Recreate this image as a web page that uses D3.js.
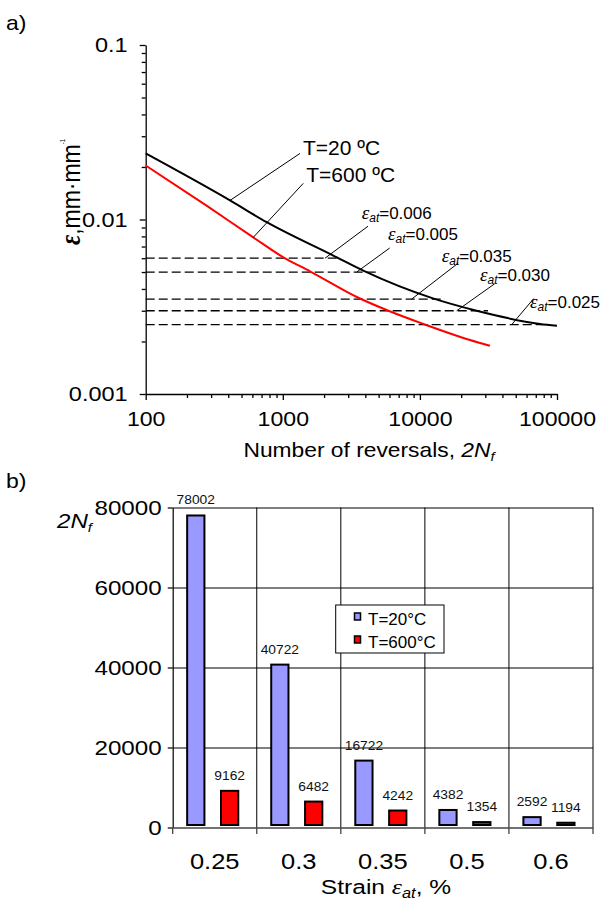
<!DOCTYPE html>
<html><head><meta charset="utf-8">
<script src="https://cdn.jsdelivr.net/npm/d3@7/dist/d3.min.js"></script>
<style>
body{margin:0;background:#fff;}
svg{display:block;font-family:"Liberation Sans",Arial,sans-serif;}
</style></head><body>
<svg id="c" width="606" height="901"></svg>
<script>
// ---------- Data: panel a ----------
const nBlack = [100, 412, 763, 2334, 3864, 12460, 25940, 75200, 100000];
const epsBlack = [0.0239, 0.01286, 0.00965, 0.00621, 0.00509, 0.00353, 0.0030, 0.00252, 0.00246];
const nRed = [100, 278, 609, 1009, 1578, 3556, 5890, 10600, 23170, 32400];
const epsRed = [0.0204, 0.0120, 0.0079, 0.00607, 0.00505, 0.00356, 0.0030, 0.00252, 0.00204, 0.00189];
const strainLevels = [0.006, 0.005, 0.0035, 0.003, 0.0025];
const strainLineEndN = [2470, 4840, 15200, 31400, 79100];
const strainLabels = ["=0.006", "=0.005", "=0.035", "=0.030", "=0.025"];
const strainAnchorN = [2032, 3459, 8716, 18550, 46760];
const xMajorTicks = [100, 1000, 10000, 100000];
const xTickLabels = ["100", "1000", "10000", "100000"];
const yMajorTicks = [0.001, 0.01, 0.1];
const yTickLabels = ["0.001", "0.01", "0.1"];
const tempLabels = ["T=20 \u00BAC", "T=600 \u00BAC"];
const tempAnchorN = [412, 609];

// ---------- Data: panel b ----------
const strainCats = ["0.25", "0.3", "0.35", "0.5", "0.6"];
const seriesNames = ["T=20\u00B0C", "T=600\u00B0C"];
const cycles20 = [78002, 40722, 16722, 4382, 2592];
const cycles600 = [9162, 6482, 4242, 1354, 1194];
const barTicks = [0, 20000, 40000, 60000, 80000];
const seriesColors = ["#9999FF", "#FF0000"];

const svg = d3.select("#c");
svg.append("rect").attr("width", 606).attr("height", 901).attr("fill", "#fff");
const FS = "Liberation Sans, Arial, sans-serif";
const K = 1.15; // horizontal stretch of the original figure's lettering

function stretch(sel, k) {
  sel.each(function () {
    const t = d3.select(this);
    const x = +t.attr("x") || 0, y = +t.attr("y") || 0;
    const prev = t.attr("transform") || "";
    t.attr("x", 0).attr("y", 0).attr("transform", `${prev} translate(${x},${y}) scale(${k},1)`);
  });
}

// ================= Panel a =================
stretch(svg.append("text").attr("x", 6).attr("y", 30).attr("font-size", 20).text("a)"), K);

const xA = d3.scaleLog().domain([100, 100000]).range([145.7, 557]);
const yA = d3.scaleLog().domain([0.001, 0.1]).range([394, 45]);

function minors(lo, hi) {
  const out = [];
  for (let d = lo; d < hi; d *= 10) for (let k = 2; k <= 9; k++) out.push(d * k);
  return out;
}
const gA = svg.append("g");
gA.append("g").attr("transform", "translate(0,394)")
  .call(d3.axisBottom(xA).tickValues(minors(100, 100000)).tickSize(4).tickFormat(""))
  .call(g => g.select(".domain").remove());
gA.append("g").attr("transform", "translate(145.7,0)")
  .call(d3.axisLeft(yA).tickValues(minors(0.001, 0.1)).tickSize(4).tickFormat(""))
  .call(g => g.select(".domain").remove());
gA.append("g").attr("transform", "translate(0,394)")
  .call(d3.axisBottom(xA).tickValues(xMajorTicks).tickSize(6).tickSizeOuter(0)
    .tickFormat((d, i) => xTickLabels[i]).tickPadding(11))
  .call(g => stretch(g.selectAll("text").attr("font-size", 21).attr("font-family", FS).attr("fill", "#000"), 1.1));
gA.append("g").attr("transform", "translate(145.7,0)")
  .call(d3.axisLeft(yA).tickValues(yMajorTicks).tickSize(6).tickSizeOuter(0)
    .tickFormat((d, i) => yTickLabels[i]).tickPadding(12))
  .call(g => stretch(g.selectAll("text").attr("font-size", 21).attr("font-family", FS).attr("fill", "#000"), 1.12));
gA.selectAll(".domain, .tick line").attr("stroke", "#000").attr("stroke-width", 1.3);

strainLevels.forEach((s, i) => {
  gA.append("line")
    .attr("x1", xA(100)).attr("x2", xA(strainLineEndN[i]))
    .attr("y1", yA(s)).attr("y2", yA(s))
    .attr("stroke", "#000").attr("stroke-width", 1.3).attr("stroke-dasharray", "9,4");
});

const lineA = d3.line().x(d => xA(d[0])).y(d => yA(d[1])).curve(d3.curveMonotoneX);
gA.append("path").datum(nRed.map((n, i) => [n, epsRed[i]]))
  .attr("d", lineA).attr("fill", "none").attr("stroke", "#FF0000").attr("stroke-width", 2);
gA.append("path").datum(nBlack.map((n, i) => [n, epsBlack[i]]))
  .attr("d", lineA).attr("fill", "none").attr("stroke", "#000").attr("stroke-width", 2);

const blackInterp = n => Math.pow(10, d3.scaleLinear().domain(nBlack.map(Math.log10)).range(epsBlack.map(Math.log10))(Math.log10(n)));
const redInterp = n => Math.pow(10, d3.scaleLinear().domain(nRed.map(Math.log10)).range(epsRed.map(Math.log10))(Math.log10(n)));
const tempLeader = [[70, -47], [50, -54]];
const tempText = [[73, -45], [53, -55]];
tempLabels.forEach((t, i) => {
  const n = tempAnchorN[i];
  const e = i === 0 ? blackInterp(n) : redInterp(n);
  const ax = xA(n), ay = yA(e);
  gA.append("line").attr("x1", ax).attr("y1", ay)
    .attr("x2", ax + tempLeader[i][0]).attr("y2", ay + tempLeader[i][1])
    .attr("stroke", "#000").attr("stroke-width", 1);
  gA.append("text").attr("x", ax + tempText[i][0]).attr("y", ay + tempText[i][1])
    .attr("font-size", 21).text(t);
});

const sLeader = [[43, -32], [33, -24], [46.6, -36], [38, -27], [22, -26]];
const sText = [[36.7, -39], [31.3, -31.7], [30, -37.5], [23.3, -29.5], [18.3, -16.7]];
strainLevels.forEach((s, i) => {
  const ax = xA(strainAnchorN[i]), ay = yA(s);
  gA.append("line").attr("x1", ax).attr("y1", ay)
    .attr("x2", ax + sLeader[i][0]).attr("y2", ay + sLeader[i][1])
    .attr("stroke", "#000").attr("stroke-width", 1);
  const t = gA.append("text").attr("x", ax + sText[i][0]).attr("y", ay + sText[i][1]).attr("font-size", 17);
  t.append("tspan").attr("font-style", "italic").attr("font-family", "Liberation Serif, serif").attr("font-size", 19).text("\u03B5");
  t.append("tspan").attr("font-style", "italic").attr("font-size", 12).attr("dy", 3).text("at");
  t.append("tspan").attr("dy", -3).text(strainLabels[i]);
});

// y label panel a
const yl = svg.append("text").attr("transform", "translate(80,192) scale(1.15,1) rotate(-90)")
  .attr("text-anchor", "middle").attr("font-size", 23);
yl.append("tspan").attr("font-family", "Liberation Serif, serif").attr("font-weight", "bold")
  .attr("font-style", "italic").attr("font-size", 25).text("\u03B5");
yl.append("tspan").text(",mm\u00B7mm");
yl.append("tspan").attr("font-size", 6).attr("dy", -13).text("-1");

// x title panel a
const xt = svg.append("text").attr("x", 369).attr("y", 457).attr("text-anchor", "middle").attr("font-size", 20);
xt.append("tspan").text("Number of reversals, ");
xt.append("tspan").attr("font-style", "italic").text("2N");
xt.append("tspan").attr("font-style", "italic").attr("font-size", 13).attr("dy", 4).text("f");
stretch(xt, 1.14);

// ================= Panel b =================
stretch(svg.append("text").attr("x", 6).attr("y", 488).attr("font-size", 20).text("b)"), K);

const xB = d3.scaleBand().domain(strainCats).range([172.7, 593]).padding(0);
const yB = d3.scaleLinear().domain([0, 80000]).range([827.5, 507.5]);
const bw = xB.bandwidth();
const xInner = d3.scaleBand().domain(seriesNames).range([0.172 * bw, 0.78 * bw]).paddingInner(0.49).paddingOuter(0);
const gB = svg.append("g");

gB.append("g").attr("transform", "translate(172.7,0)")
  .call(d3.axisLeft(yB).tickValues(barTicks.slice(1)).tickSize(-(593 - 172.7)).tickFormat(""))
  .call(g => g.select(".domain").remove())
  .call(g => g.selectAll("line").attr("stroke", "#000").attr("stroke-width", 1));
const bounds = strainCats.map(c => xB(c)).concat([593]);
bounds.slice(1).forEach(bx => {
  gB.append("line").attr("x1", bx).attr("x2", bx).attr("y1", yB(80000)).attr("y2", yB(0))
    .attr("stroke", "#000").attr("stroke-width", 1);
});
gB.append("g").attr("transform", "translate(172.7,0)")
  .call(d3.axisLeft(yB).tickValues(barTicks).tickSize(5).tickSizeOuter(0).tickPadding(6))
  .call(g => g.selectAll(".domain, .tick line").attr("stroke", "#000").attr("stroke-width", 1.2))
  .call(g => stretch(g.selectAll("text").attr("font-size", 20.5).attr("font-family", FS).attr("fill", "#000")
    .text(d => String(d)), 1.18));
gB.append("g").attr("transform", "translate(0,827.5)")
  .call(d3.axisBottom(xB).tickSize(0).tickPadding(26))
  .call(g => g.select(".domain").attr("stroke", "#444").attr("stroke-width", 1.5))
  .call(g => stretch(g.selectAll("text").attr("font-size", 22).attr("font-family", FS).attr("fill", "#000"), 1.16));
bounds.forEach(bx => {
  gB.append("line").attr("x1", bx).attr("x2", bx).attr("y1", 827.5).attr("y2", 834)
    .attr("stroke", "#444").attr("stroke-width", 1.3);
});

const seriesData = [cycles20, cycles600];
seriesData.forEach((vals, si) => {
  strainCats.forEach((c, ci) => {
    const v = vals[ci];
    const x0 = xB(c) + xInner(seriesNames[si]);
    const yTop = yB(v);
    const yBot = yB(0) - 2.5;
    gB.append("rect").attr("x", x0).attr("y", yTop).attr("width", xInner.bandwidth())
      .attr("height", Math.max(yBot - yTop, 1))
      .attr("fill", seriesColors[si]).attr("stroke", "#000").attr("stroke-width", 2);
    const lab = gB.append("text").attr("x", x0 + xInner.bandwidth() / 2).attr("y", yTop - 11)
      .attr("text-anchor", "middle").attr("font-size", 12).attr("fill", "#111").text(v);
    stretch(lab, 1.15);
  });
});

const lg = gB.append("g");
lg.append("rect").attr("x", 335.7).attr("y", 605).attr("width", 108.3).attr("height", 48)
  .attr("fill", "#fff").attr("stroke", "#000").attr("stroke-width", 1);
seriesNames.forEach((s, i) => {
  lg.append("rect").attr("x", 354.5).attr("y", 613 + i * 23).attr("width", 6).attr("height", 7)
    .attr("fill", seriesColors[i]).attr("stroke", "#000").attr("stroke-width", 1.5);
  lg.append("text").attr("x", 368).attr("y", 625 + i * 23).attr("font-size", 17).text(s);
});

const yb = svg.append("text").attr("x", 57).attr("y", 528).attr("font-size", 21).attr("font-style", "italic");
yb.append("tspan").text("2N");
yb.append("tspan").attr("font-size", 13).attr("dy", 4).text("f");
stretch(yb, K);

const xtb = svg.append("text").attr("x", 386).attr("y", 894).attr("text-anchor", "middle").attr("font-size", 21);
xtb.append("tspan").text("Strain ");
xtb.append("tspan").attr("font-style", "italic").attr("font-family", "Liberation Serif, serif").attr("font-size", 22).text("\u03B5");
xtb.append("tspan").attr("font-style", "italic").attr("font-size", 14).attr("dy", 4).text("at");
xtb.append("tspan").attr("dy", -4).text(", %");
stretch(xtb, 1.17);
</script>
</body></html>
